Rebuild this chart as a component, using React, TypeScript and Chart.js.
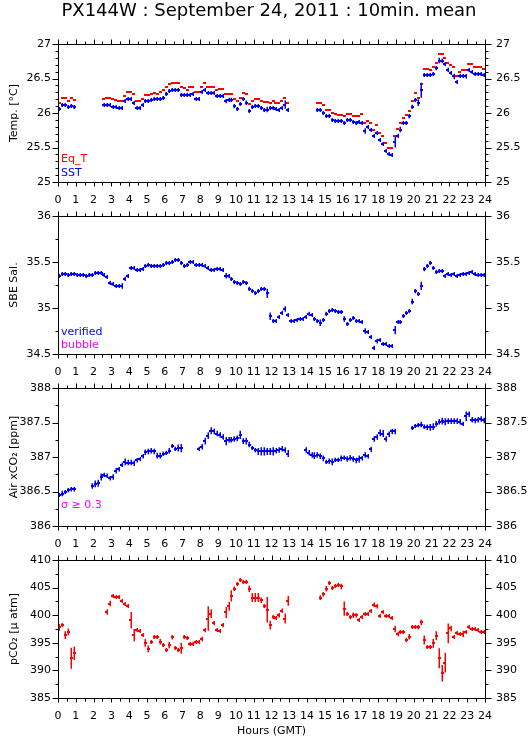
import React, { useEffect, useRef } from 'react';
import { Chart, registerables } from 'chart.js';

Chart.register(...registerables);

const W = 529;
const H = 739;
const PANEL_H = 138;
const STEP_H = 10 / 60; // 10-minute means, in hours
const FONT = "'DejaVu Sans', 'Liberation Sans', sans-serif";
const N = null;

const TITLE = 'PX144W : September 24, 2011 : 10min. mean';
const X_TITLE = 'Hours (GMT)';
const HOURS_MIN = 0;
const HOURS_MAX = 24;

// ---- Panel 1: temperatures (°C), one value per 10 minutes, 00:00 .. 23:50
const EQ_T = [
  26.15, 26.22, 26.22, 26.18, 26.22, 26.19, N, N, N, N, N, N,
  N, N, N, 26.21, 26.22, 26.22, 26.21, 26.19, 26.18, 26.18, 26.25, 26.30,
  26.30, 26.27, 26.18, 26.17, 26.21, 26.26, 26.26, 26.28, 26.29, 26.28, 26.30, 26.33,
  26.38, 26.42, 26.44, 26.44, 26.44, 26.37, 26.36, 26.34, 26.37, 26.37, 26.31, 26.31,
  26.38, 26.43, 26.38, 26.38, 26.38, 26.34, 26.35, 26.35, 26.28, 26.28, 26.28, 26.21,
  26.17, 26.22, 26.29, 26.27, 26.13, 26.18, 26.20, 26.21, 26.18, 26.16, 26.16, 26.15,
  26.17, 26.15, 26.15, 26.18, 26.22, 26.15, N, N, N, N, N, N,
  N, N, N, 26.15, 26.15, 26.11, 26.05, 26.05, 26.00, 25.99, 25.97, 25.97,
  25.96, 25.98, 25.99, 25.96, 25.96, 25.96, 25.98, 25.86, 25.89, 25.86, 25.76, 25.82,
  25.71, 25.66, 25.56, 25.50, 25.49, 25.66, 25.77, 25.85, 25.93, 25.97, 26.03, 26.18,
  26.29, 26.22, 26.42, 26.64, 26.64, 26.63, 26.66, 26.73, 26.85, 26.86, 26.80, 26.73,
  26.69, 26.66, 26.54, 26.60, 26.63, 26.63, 26.71, 26.71, 26.67, 26.66, 26.66, 26.64,
];

const SST = [
  26.06, 26.12, 26.12, 26.09, 26.10, 26.09, N, N, N, N, N, N,
  N, N, N, 26.12, 26.12, 26.11, 26.09, 26.08, 26.07, 26.07, 26.17, 26.20,
  26.20, 26.15, 26.07, 26.07, 26.12, 26.17, 26.17, 26.19, 26.20, 26.20, 26.20, 26.22,
  26.28, 26.32, 26.34, 26.34, 26.34, 26.26, 26.26, 26.26, 26.26, 26.27, 26.20, 26.21,
  26.31, 26.33, 26.29, 26.29, 26.29, 26.25, 26.25, 26.25, 26.17, 26.19, 26.19, 26.10,
  26.06, 26.13, 26.20, 26.15, 26.03, 26.08, 26.10, 26.10, 26.07, 26.05, 26.05, 26.07,
  26.07, 26.06, 26.05, 26.07, 26.12, 26.05, N, N, N, N, N, N,
  N, N, N, 26.05, 26.04, 26.00, 25.95, 25.95, 25.90, 25.89, 25.88, 25.88,
  25.86, 25.90, 25.90, 25.87, 25.86, 25.87, 25.86, 25.74, 25.79, 25.76, 25.67, 25.71,
  25.61, 25.55, 25.45, 25.41, 25.39, 25.58, 25.67, 25.76, 25.85, 25.85, 25.95, 26.09,
  26.19, 26.15, 26.33, 26.55, 26.55, 26.55, 26.57, 26.65, 26.76, 26.76, 26.71, 26.63,
  26.58, 26.53, 26.45, 26.53, 26.53, 26.53, 26.62, 26.60, 26.57, 26.56, 26.57, 26.55,
];

const SST_SD = [
  0.02, 0.015, 0.015, 0.015, 0.015, 0.015, 0, 0, 0, 0, 0, 0,
  0, 0, 0, 0.01, 0.01, 0.01, 0.015, 0.015, 0.015, 0.015, 0.02, 0.015,
  0.015, 0.02, 0.015, 0.015, 0.02, 0.015, 0.015, 0.015, 0.015, 0.015, 0.015, 0.015,
  0.015, 0.015, 0.015, 0.015, 0.015, 0.015, 0.015, 0.015, 0.015, 0.015, 0.015, 0.015,
  0.02, 0.02, 0.02, 0.015, 0.015, 0.015, 0.015, 0.015, 0.03, 0.03, 0.03, 0.03,
  0.015, 0.02, 0.015, 0.03, 0.015, 0.015, 0.015, 0.015, 0.015, 0.015, 0.04, 0.015,
  0.015, 0.015, 0.015, 0.015, 0.06, 0.015, 0, 0, 0, 0, 0, 0,
  0, 0, 0, 0.02, 0.015, 0.015, 0.02, 0.015, 0.015, 0.015, 0.015, 0.015,
  0.02, 0.015, 0.015, 0.02, 0.02, 0.02, 0.015, 0.04, 0.02, 0.02, 0.02, 0.015,
  0.02, 0.03, 0.02, 0.015, 0.015, 0.08, 0.03, 0.04, 0.015, 0.015, 0.03, 0.03,
  0.02, 0.05, 0.11, 0.015, 0.015, 0.015, 0.015, 0.03, 0.04, 0.03, 0.02, 0.03,
  0.03, 0.04, 0.03, 0.015, 0.015, 0.03, 0.015, 0.015, 0.015, 0.015, 0.015, 0.015,
];

// ---- Panel 2: SBE salinity
const SAL = [
  35.35, 35.37, 35.37, 35.36, 35.37, 35.37, 35.36, 35.36, 35.36, 35.35, 35.36, 35.36,
  35.38, 35.38, 35.38, 35.36, 35.34, 35.27, 35.26, 35.24, 35.24, 35.24, 35.32, 35.35,
  35.43, 35.44, 35.41, 35.41, 35.42, 35.46, 35.47, 35.46, 35.46, 35.46, 35.46, 35.47,
  35.49, 35.49, 35.50, 35.52, 35.52, 35.49, 35.46, 35.47, 35.50, 35.50, 35.47, 35.47,
  35.47, 35.46, 35.44, 35.41, 35.41, 35.42, 35.42, 35.41, 35.35, 35.35, 35.32, 35.28,
  35.27, 35.26, 35.28, 35.27, 35.21, 35.18, 35.16, 35.19, 35.21, 35.21, 35.16, 34.91,
  34.86, 34.86, 34.90, 34.95, 34.99, 34.92, 34.86, 34.86, 34.87, 34.88, 34.88, 34.90,
  34.94, 34.92, 34.88, 34.86, 34.84, 34.87, 34.94, 34.97, 34.98, 34.97, 34.96, 34.96,
  34.88, 34.83, 34.87, 34.89, 34.86, 34.86, 34.85, 34.75, 34.74, 34.68, 34.57, 34.64,
  34.65, 34.61, 34.61, 34.59, 34.59, 34.76, 34.85, 34.85, 34.91, 34.95, 34.97, 35.07,
  35.18, 35.15, 35.24, 35.42, 35.46, 35.49, 35.44, 35.39, 35.40, 35.40, 35.35, 35.37,
  35.36, 35.37, 35.35, 35.36, 35.37, 35.37, 35.38, 35.39, 35.37, 35.36, 35.36, 35.36,
];

const SAL_SD = [
  0.012, 0.012, 0.012, 0.012, 0.012, 0.012, 0.012, 0.012, 0.012, 0.012, 0.012, 0.012,
  0.012, 0.012, 0.012, 0.012, 0.02, 0.02, 0.012, 0.012, 0.012, 0.03, 0.02, 0.012,
  0.02, 0.012, 0.012, 0.012, 0.012, 0.012, 0.012, 0.012, 0.012, 0.012, 0.012, 0.012,
  0.012, 0.012, 0.012, 0.012, 0.012, 0.015, 0.012, 0.012, 0.012, 0.012, 0.012, 0.012,
  0.012, 0.012, 0.012, 0.02, 0.012, 0.012, 0.012, 0.012, 0.03, 0.012, 0.015, 0.012,
  0.012, 0.012, 0.012, 0.012, 0.02, 0.012, 0.012, 0.012, 0.012, 0.012, 0.05, 0.04,
  0.012, 0.012, 0.015, 0.02, 0.03, 0.015, 0.012, 0.012, 0.012, 0.012, 0.012, 0.012,
  0.02, 0.015, 0.012, 0.015, 0.035, 0.012, 0.02, 0.012, 0.012, 0.012, 0.012, 0.012,
  0.03, 0.012, 0.012, 0.012, 0.015, 0.012, 0.015, 0.03, 0.02, 0.012, 0.02, 0.025,
  0.012, 0.012, 0.012, 0.012, 0.015, 0.045, 0.02, 0.02, 0.012, 0.012, 0.012, 0.03,
  0.02, 0.012, 0.045, 0.02, 0.012, 0.012, 0.015, 0.012, 0.012, 0.012, 0.02, 0.012,
  0.012, 0.012, 0.012, 0.012, 0.012, 0.012, 0.012, 0.012, 0.012, 0.012, 0.012, 0.012,
];

// ---- Panel 3: air xCO2 (ppm)
const XCO2 = [
  386.45, 386.47, 386.49, 386.52, 386.53, 386.53, N, N, N, N, N, 386.58,
  386.61, 386.62, 386.71, 386.74, 386.73, 386.69, 386.71, 386.80, 386.82, 386.89, 386.93, 386.92,
  386.92, 386.91, 386.95, 386.97, 387.01, 387.07, 387.08, 387.09, 387.08, 387.02, 387.02, 387.05,
  387.06, 387.09, 387.16, 387.12, 387.13, 387.13, N, N, N, N, N, 387.12,
  387.15, 387.23, 387.31, 387.38, 387.37, 387.34, 387.32, 387.29, 387.23, 387.25, 387.25, 387.26,
  387.27, 387.32, 387.23, 387.23, 387.18, 387.13, 387.10, 387.08, 387.08, 387.08, 387.08, 387.08,
  387.08, 387.09, 387.10, 387.12, 387.10, 387.05, N, N, N, N, N, 387.10,
  387.06, 387.03, 387.02, 387.03, 387.01, 386.98, 386.93, 386.94, 386.93, 386.96, 386.96, 386.98,
  386.99, 386.97, 386.99, 386.97, 386.95, 386.97, 386.98, 387.03, 387.01, 387.11, 387.26, 387.29,
  387.35, 387.34, 387.26, 387.33, 387.37, 387.37, N, N, N, N, N, 387.42,
  387.45, 387.46, 387.47, 387.44, 387.43, 387.43, 387.44, 387.48, 387.51, 387.52, 387.51, 387.52,
  387.52, 387.52, 387.52, 387.51, 387.48, 387.59, 387.62, 387.54, 387.53, 387.54, 387.55, 387.53,
];

const XCO2_SD = [
  0.03, 0.04, 0.03, 0.03, 0.03, 0.03, 0, 0, 0, 0, 0, 0.04,
  0.05, 0.05, 0.05, 0.03, 0.03, 0.03, 0.04, 0.04, 0.03, 0.03, 0.05, 0.04,
  0.04, 0.04, 0.03, 0.03, 0.03, 0.04, 0.04, 0.04, 0.04, 0.04, 0.04, 0.03,
  0.03, 0.04, 0.03, 0.03, 0.05, 0.06, 0, 0, 0, 0, 0, 0.03,
  0.04, 0.05, 0.05, 0.05, 0.04, 0.04, 0.04, 0.04, 0.06, 0.04, 0.04, 0.04,
  0.04, 0.06, 0.04, 0.05, 0.04, 0.03, 0.03, 0.05, 0.06, 0.06, 0.05, 0.05,
  0.06, 0.04, 0.04, 0.04, 0.04, 0.05, 0, 0, 0, 0, 0, 0.04,
  0.04, 0.04, 0.05, 0.04, 0.04, 0.04, 0.03, 0.04, 0.05, 0.03, 0.03, 0.04,
  0.03, 0.04, 0.04, 0.04, 0.04, 0.05, 0.03, 0.04, 0.03, 0.04, 0.04, 0.04,
  0.05, 0.05, 0.04, 0.04, 0.04, 0.04, 0, 0, 0, 0, 0, 0.03,
  0.03, 0.03, 0.04, 0.03, 0.04, 0.05, 0.05, 0.04, 0.04, 0.05, 0.05, 0.04,
  0.04, 0.04, 0.04, 0.04, 0.03, 0.07, 0.04, 0.04, 0.04, 0.04, 0.04, 0.04,
];

// ---- Panel 4: pCO2 (µatm)
const PCO2 = [
  397.8, 398.2, 396.4, 397.0, 392.2, 393.1, N, N, N, N, N, N,
  N, N, N, N, 400.6, 402.1, 403.4, 403.3, 403.3, 402.5, 402.0, 401.6,
  399.1, 396.4, 397.3, 397.2, 396.4, 395.0, 393.9, 395.2, 396.0, 396.0, 395.2, 394.6,
  393.7, 394.6, 396.0, 394.0, 393.7, 394.0, 396.1, 395.8, 394.8, 394.8, 395.1, 395.1,
  395.7, 397.3, 399.4, 400.3, 398.5, 397.4, 397.2, 398.2, 400.5, 401.6, 403.5, 404.8,
  405.6, 406.3, 406.1, 406.1, 404.8, 403.2, 403.2, 403.2, 402.7, 401.6, 401.0, 398.2,
  399.6, 399.5, 400.0, 400.8, 399.4, 402.6, N, N, N, N, N, N,
  N, N, N, N, 403.2, 403.8, 404.8, 405.9, 405.0, 405.2, 405.5, 405.2,
  401.2, 400.2, 399.6, 400.0, 400.0, 399.1, 399.6, 400.2, 400.2, 400.8, 401.9, 401.6,
  399.9, 400.5, 399.8, 399.9, 399.5, 397.5, 396.6, 396.9, 397.0, 395.5, 396.1, 397.8,
  397.8, 397.8, 398.7, 395.5, 394.2, 394.2, 394.9, 396.3, 392.2, 389.5, 391.4, 396.7,
  397.6, 396.1, 396.7, 396.6, 396.6, 397.0, 397.9, 397.5, 397.5, 397.3, 396.9, 396.9,
];

const PCO2_SD = [
  0.6, 0.3, 0.7, 0.6, 1.9, 1.2, 0, 0, 0, 0, 0, 0,
  0, 0, 0, 0, 0.5, 0.5, 0.2, 0.2, 0.3, 0.2, 0.2, 0.3,
  1.5, 1.1, 0.3, 0.3, 0.3, 0.7, 0.6, 0.3, 0.2, 0.2, 0.5, 0.3,
  0.2, 0.6, 0.4, 0.3, 0.2, 1.0, 0.2, 0.2, 0.4, 0.4, 0.3, 0.3,
  0.4, 0.4, 2.2, 0.8, 0.3, 0.2, 0.2, 0.4, 1.0, 0.8, 1.0, 0.4,
  0.2, 0.2, 0.2, 0.3, 0.6, 0.8, 0.8, 0.8, 0.5, 0.2, 2.3, 0.8,
  0.2, 0.3, 0.4, 0.4, 0.9, 0.9, 0, 0, 0, 0, 0, 0,
  0, 0, 0, 0, 0.4, 0.4, 0.5, 0.2, 0.3, 0.2, 0.2, 0.5,
  1.3, 0.3, 0.3, 0.5, 0.4, 0.2, 0.2, 0.3, 0.3, 0.3, 0.4, 0.4,
  0.3, 0.3, 0.3, 0.2, 0.3, 0.6, 0.4, 0.3, 0.3, 0.4, 0.5, 0.3,
  0.3, 0.4, 0.5, 0.8, 0.3, 0.3, 0.8, 0.8, 1.8, 1.5, 1.8, 1.8,
  0.5, 0.3, 0.3, 0.3, 0.6, 0.3, 0.2, 0.2, 0.2, 0.2, 0.2, 0.2,
];

const RED = '#ff0000';
const BLUE = '#0000ff';
const MAGENTA = '#ff00ff';

type Series = { label: string; values: (number | null)[]; sd: number[] | null; color: string };
type Note = { text: string; color: string; up: number };
type Panel = {
  top: number; min: number; max: number; major: number; minor: number;
  yTitle: string; series: Series[]; notes: Note[];
};

const PANELS: Panel[] = [
  {
    top: 44, min: 25, max: 27, major: 0.5, minor: 0.1, yTitle: 'Temp. [°C]',
    series: [
      { label: 'Eq_T', values: EQ_T, sd: null, color: RED },
      { label: 'SST', values: SST, sd: SST_SD, color: BLUE },
    ],
    notes: [
      { text: 'Eq_T', color: RED, up: 20 },
      { text: 'SST', color: BLUE, up: 6 },
    ],
  },
  {
    top: 216, min: 34.5, max: 36, major: 0.5, minor: 0.25, yTitle: 'SBE Sal.',
    series: [{ label: 'verified', values: SAL, sd: SAL_SD, color: BLUE }],
    notes: [
      { text: 'verified', color: BLUE, up: 19 },
      { text: 'bubble', color: MAGENTA, up: 6 },
    ],
  },
  {
    top: 388, min: 386, max: 388, major: 0.5, minor: 0.25, yTitle: 'Air xCO₂ [ppm]',
    series: [{ label: 'Air xCO2', values: XCO2, sd: XCO2_SD, color: BLUE }],
    notes: [{ text: 'σ ≥ 0.3', color: MAGENTA, up: 18 }],
  },
  {
    top: 560, min: 385, max: 410, major: 5, minor: 2.5, yTitle: 'pCO₂ [μ atm]',
    series: [{ label: 'pCO2', values: PCO2, sd: PCO2_SD, color: RED }],
    notes: [],
  },
];

function buildPoints(values: (number | null)[], sd: number[] | null) {
  const pts: { x: number; y: number; e: number }[] = [];
  values.forEach((v, i) => {
    if (v === null) return;
    pts.push({ x: (i + 0.5) * STEP_H, y: v, e: sd ? sd[i] : 0 });
  });
  return pts;
}

const crossPlugin = {
  id: 'crossMarks',
  afterDatasetsDraw(chart: any) {
    const { ctx, chartArea: a, scales } = chart;
    const xs = scales.x;
    const ys = scales.y;
    ctx.save();
    ctx.beginPath();
    ctx.rect(a.left, a.top - 1, a.right - a.left, a.bottom - a.top + 2);
    ctx.clip();
    ctx.lineCap = 'butt';
    chart.data.datasets.forEach((ds: any) => {
      ctx.strokeStyle = ds.borderColor;
      // horizontal bars: span of the 10-minute interval
      ctx.lineWidth = 2;
      ctx.beginPath();
      ds.data.forEach((p: any) => {
        const x0 = Math.round(xs.getPixelForValue(p.x - STEP_H / 2));
        const x1 = Math.round(xs.getPixelForValue(p.x + STEP_H / 2));
        const yc = Math.round(ys.getPixelForValue(p.y));
        ctx.moveTo(x0, yc);
        ctx.lineTo(Math.max(x1, x0 + 3), yc);
      });
      ctx.stroke();
      // vertical bars: ± standard deviation
      ctx.lineWidth = 1.5;
      ctx.beginPath();
      ds.data.forEach((p: any) => {
        if (!(p.e > 0)) return;
        const xc = Math.round(xs.getPixelForValue(p.x)) + 0.25;
        const yc = Math.round(ys.getPixelForValue(p.y));
        const ya = Math.min(yc - 2, ys.getPixelForValue(p.y + p.e));
        const yb = Math.max(yc + 2, ys.getPixelForValue(p.y - p.e));
        ctx.moveTo(xc, ya);
        ctx.lineTo(xc, yb);
      });
      ctx.stroke();
    });
    ctx.restore();
  },
};

function framePlugin(p: Panel) {
  return {
    id: 'frameTicks',
    afterDraw(chart: any) {
      const { ctx, chartArea: a, scales } = chart;
      const xs = scales.x;
      const ys = scales.y;
      const L = Math.round(a.left) + 0.5;
      const R = Math.round(a.right) + 0.5;
      const T = Math.round(a.top) + 0.5;
      const B = Math.round(a.bottom) + 0.5;
      ctx.save();
      ctx.strokeStyle = '#000';
      ctx.lineWidth = 1;
      ctx.strokeRect(L, T, R - L, B - T);
      ctx.beginPath();
      for (let h = HOURS_MIN; h <= HOURS_MAX; h += 0.5) {
        const x = Math.round(xs.getPixelForValue(h)) + 0.5;
        const major = h % 1 === 0;
        ctx.moveTo(x, T);
        ctx.lineTo(x, T - (major ? 5 : 3));
        ctx.moveTo(x, B);
        ctx.lineTo(x, B + (major ? 4 : 3));
      }
      const n = Math.round((p.max - p.min) / p.minor);
      for (let k = 0; k <= n; k++) {
        const v = p.min + k * p.minor;
        const r = v / p.major;
        const major = Math.abs(r - Math.round(r)) < 1e-6;
        const y = Math.round(ys.getPixelForValue(v)) + 0.5;
        ctx.moveTo(L, y);
        ctx.lineTo(L - (major ? 6 : 3), y);
        ctx.moveTo(R, y);
        ctx.lineTo(R + (major ? 6 : 3), y);
      }
      ctx.stroke();
      ctx.font = `11px ${FONT}`;
      ctx.textAlign = 'left';
      ctx.textBaseline = 'alphabetic';
      p.notes.forEach((nt) => {
        ctx.fillStyle = nt.color;
        ctx.fillText(nt.text, a.left + 3, a.bottom - nt.up);
      });
      ctx.restore();
    },
  };
}

const TICK_FONT = { family: FONT, size: 11, weight: 'normal' as const };
const LEFT_PAD = 9;
const fmt = (v: any) => String(Number(Number(v).toFixed(3)));

function makeConfig(p: Panel, k: number): any {
  const isFirst = k === 0;
  const isLast = k === PANELS.length - 1;
  const below = H - (p.top + PANEL_H);
  const xAxisH = isLast ? below : 24;
  const padBottom = below - xAxisH;
  const yTicks = { stepSize: p.major, color: '#000', font: TICK_FONT, callback: fmt };
  return {
    type: 'scatter',
    data: {
      datasets: p.series.map((s) => ({
        label: s.label,
        data: buildPoints(s.values, s.sd),
        borderColor: s.color,
        backgroundColor: s.color,
        pointRadius: 0,
        pointHoverRadius: 0,
        showLine: false,
        yAxisID: 'y',
      })),
    },
    options: {
      responsive: false,
      maintainAspectRatio: false,
      animation: false,
      events: [],
      layout: { padding: { top: isFirst ? 0 : p.top, bottom: padBottom, left: LEFT_PAD, right: 0 } },
      plugins: {
        legend: { display: false },
        tooltip: { enabled: false },
        title: isFirst
          ? {
              display: true,
              text: TITLE,
              color: '#000',
              font: { family: FONT, size: 18, weight: 'normal', lineHeight: '22px' },
              padding: { top: 0, bottom: p.top - 22 },
            }
          : { display: false },
      },
      scales: {
        x: {
          type: 'linear',
          position: 'bottom',
          min: HOURS_MIN,
          max: HOURS_MAX,
          ticks: { stepSize: 1, autoSkip: false, maxRotation: 0, color: '#000', font: TICK_FONT, padding: 12, callback: fmt },
          grid: { display: false, drawTicks: false },
          border: { display: false },
          title: isLast
            ? { display: true, text: X_TITLE, color: '#000', font: { family: FONT, size: 11, lineHeight: 1.2 }, padding: { top: 0, bottom: 1 } }
            : { display: false },
          afterFit: (s: any) => { s.height = xAxisH; },
        },
        y: {
          type: 'linear',
          position: 'left',
          min: p.min,
          max: p.max,
          ticks: { ...yTicks, padding: 7 },
          grid: { display: false, drawTicks: false },
          border: { display: false },
          title: {
            display: true,
            text: p.yTitle,
            color: '#000',
            font: { family: FONT, size: 11, lineHeight: '11px' },
            padding: { top: 0.1, bottom: 0 },
          },
          afterFit: (s: any) => { s.width = 58 - LEFT_PAD; },
        },
        yR: {
          type: 'linear',
          position: 'right',
          min: p.min,
          max: p.max,
          ticks: { ...yTicks, padding: 11 },
          grid: { display: false, drawTicks: false },
          border: { display: false },
          afterFit: (s: any) => { s.width = W - 485; },
        },
      },
    },
    plugins: [crossPlugin, framePlugin(p)],
  };
}

export default function App() {
  const refs = useRef<(HTMLCanvasElement | null)[]>([]);
  useEffect(() => {
    const charts = PANELS.map((p, k) => new Chart(refs.current[k] as HTMLCanvasElement, makeConfig(p, k)));
    return () => charts.forEach((c) => c.destroy());
  }, []);
  return (
    <div style={{ position: 'absolute', left: 0, top: 0, width: W, height: H, background: '#fff', overflow: 'hidden' }}>
      {PANELS.map((p, k) => (
        <canvas
          key={k}
          ref={(el) => { refs.current[k] = el; }}
          width={W}
          height={H}
          style={{ position: 'absolute', left: 0, top: 0, width: W, height: H }}
        />
      ))}
    </div>
  );
}
